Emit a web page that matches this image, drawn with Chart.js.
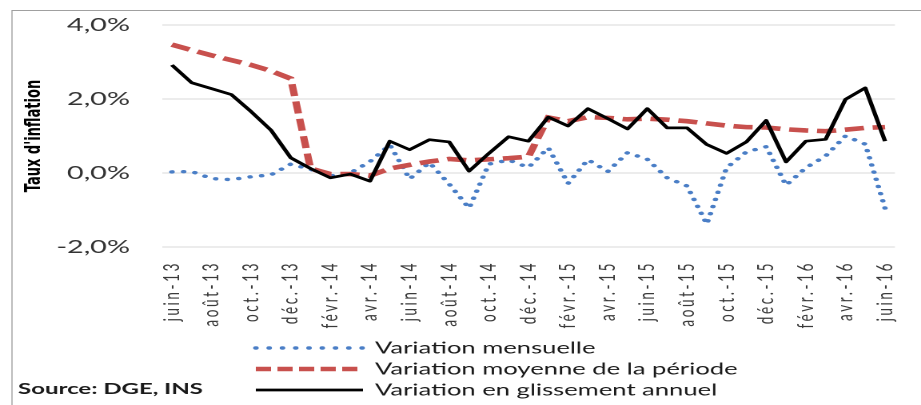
<!DOCTYPE html>
<html>
<head>
<meta charset="utf-8">
<script src="https://cdn.jsdelivr.net/npm/chart.js@4.4.1/dist/chart.umd.min.js"></script>
<style>
  html, body { margin: 0; padding: 0; background: #ffffff; overflow: hidden; }
  body { width: 921px; height: 405px; position: relative; }
  #wrap { position: absolute; left: 0; top: 0; width: 576px; height: 405px;
          transform: scaleX(1.599); transform-origin: 0 0; }
</style>
</head>
<body>
<div id="wrap"><canvas id="c"></canvas></div>
<script>
// ---- data ----
const categories = ['juin-13','juil.-13','août-13','sept.-13','oct.-13','nov.-13','déc.-13',
  'janv.-14','févr.-14','mars-14','avr.-14','mai-14','juin-14','juil.-14','août-14','sept.-14',
  'oct.-14','nov.-14','déc.-14','janv.-15','févr.-15','mars-15','avr.-15','mai-15','juin-15',
  'juil.-15','août-15','sept.-15','oct.-15','nov.-15','déc.-15','janv.-16','févr.-16','mars-16',
  'avr.-16','mai-16','juin-16'];

const variationMensuelle = [0.03, 0.04, -0.15, -0.18, -0.10, -0.05, 0.24, 0.10, -0.08, 0.00,
  0.31, 0.76, -0.16, 0.28, -0.30, -0.95, 0.24, 0.35, 0.15, 0.68, -0.28, 0.36, 0.04, 0.55, 0.37,
  -0.13, -0.35, -1.38, 0.14, 0.57, 0.71, -0.33, 0.14, 0.46, 1.00, 0.78, -0.95];

const variationMoyenne = [3.47, 3.32, 3.18, 3.05, 2.92, 2.76, 2.55, 0.12, -0.03, -0.03,
  -0.07, 0.12, 0.22, 0.31, 0.38, 0.34, 0.37, 0.40, 0.44, 1.50, 1.40, 1.51, 1.49, 1.45, 1.47,
  1.44, 1.40, 1.34, 1.28, 1.24, 1.23, 1.18, 1.15, 1.13, 1.17, 1.22, 1.24];

const variationGlissement = [2.92, 2.44, 2.28, 2.12, 1.66, 1.16, 0.41, 0.12, -0.13, -0.03,
  -0.22, 0.86, 0.63, 0.90, 0.84, 0.05, 0.53, 0.98, 0.86, 1.51, 1.27, 1.74, 1.47, 1.19, 1.74,
  1.22, 1.22, 0.77, 0.53, 0.84, 1.42, 0.30, 0.86, 0.91, 1.99, 2.30, 0.86];

const seriesNames = ['Variation mensuelle', 'Variation moyenne de la période', 'Variation en glissement annuel'];
const yTickValues = [-2, 0, 2, 4];
const axisTitle = "Taux d'inflation";
const sourceText = 'Source: DGE, INS';

// ---- category scale whose rotated labels get a little letter spacing ----
class SpacedCategoryScale extends Chart.CategoryScale {
  drawLabels(chartArea) {
    const ctx = this.ctx;
    ctx.save();
    ctx.letterSpacing = '2.6px';
    super.drawLabels(chartArea);
    ctx.restore();
  }
}
SpacedCategoryScale.id = 'spacedCategory';
SpacedCategoryScale.defaults = {};
Chart.register(SpacedCategoryScale);

// ---- frame (left + top border of the chart object) ----
const framePlugin = {
  id: 'frame',
  beforeDraw(chart) {
    const ctx = chart.ctx;
    ctx.save();
    ctx.strokeStyle = '#a0a0a0';
    ctx.lineWidth = 1;
    ctx.beginPath();
    ctx.moveTo(7.5, 10.5); ctx.lineTo(chart.width, 10.5);
    ctx.stroke();
    ctx.lineWidth = 0.7;
    ctx.beginPath();
    ctx.moveTo(7.5, 10); ctx.lineTo(7.5, chart.height);
    ctx.stroke();
    ctx.restore();
  }
};

// ---- stacked legend + source note ----
const legendPlugin = {
  id: 'stackLegend',
  afterDraw(chart) {
    const ctx = chart.ctx;
    const rowsY = [348, 369, 390];
    const x0 = 160, x1 = 227, tx = 234.5;
    ctx.save();
    chart.data.datasets.forEach((ds, i) => {
      const y = rowsY[i];
      ctx.beginPath();
      ctx.strokeStyle = ds.borderColor;
      ctx.lineWidth = ds.borderWidth;
      ctx.lineCap = ds.borderCapStyle || 'butt';
      ctx.setLineDash(ds.legendDash || ds.borderDash || []);
      ctx.moveTo(x0, y); ctx.lineTo(x1, y);
      ctx.stroke();
      ctx.setLineDash([]);
      ctx.fillStyle = '#1a1a1a';
      ctx.font = '16px Lato';
      ctx.textAlign = 'left';
      ctx.textBaseline = 'middle';
      ctx.fillText(ds.label, tx, y + 0.5);
    });
    ctx.font = 'bold 15px Lato';
    ctx.fillStyle = '#1a1a1a';
    ctx.textAlign = 'left';
    ctx.textBaseline = 'middle';
    ctx.fillText(sourceText, 11.3, 389);
    ctx.restore();
  }
};

new Chart(document.getElementById('c'), {
  type: 'line',
  data: {
    labels: categories,
    datasets: [
      {
        label: seriesNames[0], data: variationMensuelle,
        borderColor: '#4a7ec6', borderWidth: 3.4, borderDash: [0.1, 7.2],
        legendDash: [0.1, 8.2],
        borderCapStyle: 'round', pointRadius: 0, tension: 0, order: 2
      },
      {
        label: seriesNames[1], data: variationMoyenne,
        borderColor: '#c8504d', borderWidth: 4.6, borderDash: [12, 5.5],
        legendDash: [9.5, 4],
        borderCapStyle: 'butt', pointRadius: 0, tension: 0, order: 1
      },
      {
        label: seriesNames[2], data: variationGlissement,
        borderColor: '#000000', borderWidth: 2.7,
        pointRadius: 0, tension: 0, order: 0, borderJoinStyle: 'round'
      }
    ]
  },
  options: {
    responsive: true,
    maintainAspectRatio: false,
    animation: false,
    devicePixelRatio: 2,
    layout: { padding: { top: 25, right: 16.3, bottom: 0, left: 0 } },
    plugins: { legend: { display: false }, tooltip: { enabled: false }, title: { display: false } },
    scales: {
      x: {
        type: 'spacedCategory',
        offset: true,
        grid: { display: true, drawOnChartArea: false, drawTicks: true, tickLength: 14,
                tickColor: 'rgba(0,0,0,0)', color: 'rgba(0,0,0,0)' },
        border: { display: false },
        ticks: {
          autoSkip: false, minRotation: 90, maxRotation: 90, padding: 0,
          color: '#3a3a3a', font: { family: 'Lato', size: 13.5 },
          callback: (v, i) => (i % 2 === 0 ? categories[i] : '')
        },
        afterFit: (s) => { s.height = 158; }
      },
      y: {
        min: -2, max: 4,
        afterBuildTicks: (s) => { s.ticks = yTickValues.map(v => ({ value: v })); },
        grid: { color: '#d9d9d9', lineWidth: 1, drawTicks: true, tickLength: 20,
                tickColor: 'rgba(0,0,0,0)' },
        border: { display: false },
        ticks: {
          padding: 0, color: '#333333', font: { family: 'Lato', size: 18 },
          callback: (v) => v.toFixed(1).replace('.', ',') + '%'
        },
        title: {
          display: true, text: axisTitle, color: '#000000',
          font: { family: 'DejaVu Sans', size: 13, weight: 'bold' },
          padding: { top: 14, bottom: 0 }
        },
        afterFit: (s) => { s.width = 101.3; }
      }
    }
  },
  plugins: [framePlugin, legendPlugin]
});
</script>
</body>
</html>
